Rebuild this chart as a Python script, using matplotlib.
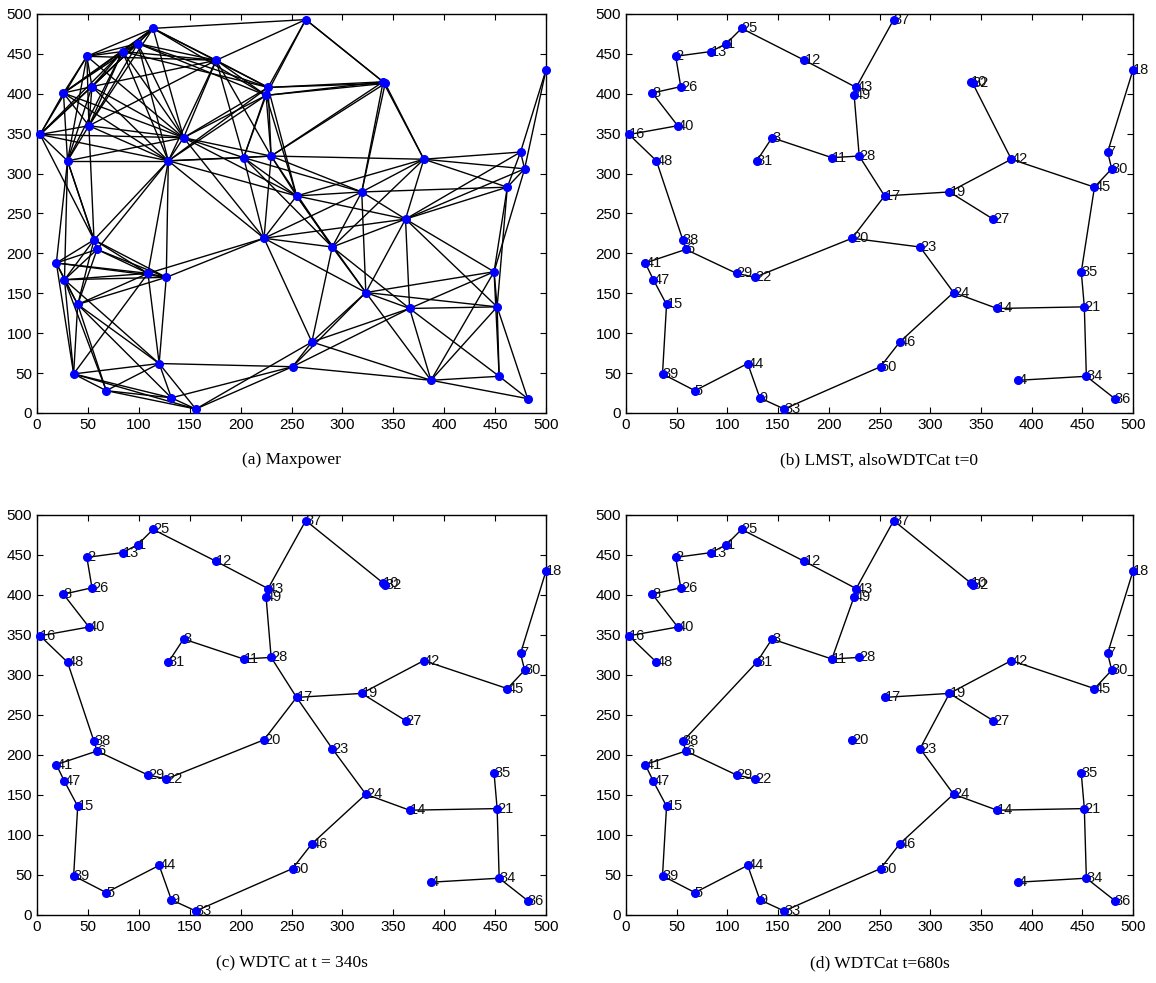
import numpy as np
import matplotlib
matplotlib.use('Agg')
import matplotlib.pyplot as plt

# node positions, index = node id (1..50)
node_id = list(range(1, 51))
node_x = [99, 49, 144, 387, 68, 59, 475, 26, 132, 340,
          203, 176, 84, 366, 40, 3, 255, 500, 319, 223,
          452, 127, 290, 323, 114, 54, 362, 230, 109, 479,
          129, 342, 156, 454, 449, 482, 264, 56, 36, 51,
          19, 380, 227, 120, 462, 270, 27, 30, 225, 251]
node_y = [463, 447, 345, 41, 28, 205, 327, 401, 19, 415,
          320, 442, 453, 131, 136, 349, 272, 430, 277, 219,
          133, 170, 208, 151, 482, 409, 243, 322, 175, 306,
          316, 413, 5, 46, 177, 18, 493, 217, 49, 360,
          188, 318, 408, 62, 283, 89, 167, 316, 398, 58]

# max transmission range for the maxpower graph
max_range = 151

lmst_edges = [(25, 1), (1, 13), (13, 2), (2, 26), (26, 8), (8, 40), (40, 16), (16, 48),
              (48, 38), (38, 6), (6, 41), (41, 47), (47, 15), (15, 39), (39, 5), (5, 44),
              (44, 9), (9, 33), (33, 50), (50, 46), (46, 24), (24, 23), (23, 20), (20, 22),
              (22, 29), (29, 6), (20, 17), (17, 28), (28, 49), (49, 43), (43, 12), (12, 25),
              (43, 37), (28, 11), (11, 3), (3, 31), (17, 19), (19, 27), (19, 42), (42, 32),
              (32, 10), (42, 45), (45, 30), (30, 7), (7, 18), (45, 35), (35, 21), (21, 14),
              (14, 24), (21, 34), (34, 4), (34, 36)]

wdtc340_edges = [(25, 1), (1, 13), (13, 2), (2, 26), (26, 8), (8, 40), (40, 16), (16, 48),
                 (48, 38), (38, 6), (6, 41), (41, 47), (47, 15), (15, 39), (39, 5), (5, 44),
                 (44, 9), (9, 33), (33, 50), (50, 46), (46, 24), (24, 23), (23, 17), (24, 14),
                 (14, 21), (21, 35), (21, 34), (34, 4), (34, 36), (6, 29), (29, 22), (22, 20),
                 (20, 17), (17, 28), (28, 49), (49, 43), (43, 12), (12, 25), (43, 37), (37, 10),
                 (10, 32), (28, 11), (11, 3), (3, 31), (17, 19), (19, 27), (19, 42), (42, 45),
                 (45, 30), (30, 7), (7, 18)]

wdtc680_edges = [(25, 1), (1, 13), (13, 2), (2, 26), (26, 8), (8, 40), (40, 16), (16, 48),
                 (38, 31), (31, 3), (3, 11), (11, 28), (11, 49), (49, 43), (43, 12), (12, 25),
                 (43, 37), (37, 10), (10, 32), (38, 6), (6, 41), (41, 47), (47, 15), (15, 39),
                 (39, 5), (5, 44), (44, 9), (9, 33), (33, 50), (50, 46), (46, 24), (24, 23),
                 (23, 19), (24, 14), (14, 21), (21, 35), (21, 34), (34, 4), (34, 36), (6, 29),
                 (29, 22), (17, 19), (19, 27), (19, 42), (42, 45), (45, 30), (30, 7), (7, 18)]

captions = ['(a) Maxpower', '(b) LMST, alsoWDTCat t=0',
            '(c) WDTC at t = 340s', '(d) WDTCat t=680s']

xs = np.array(node_x, dtype=float)
ys = np.array(node_y, dtype=float)

# maxpower: every pair within range
maxpower_edges = []
for i in range(len(node_id)):
    for j in range(i + 1, len(node_id)):
        if np.hypot(xs[i] - xs[j], ys[i] - ys[j]) <= max_range:
            maxpower_edges.append((node_id[i], node_id[j]))

W, H = 1156, 983
fig = plt.figure(figsize=(W / 100, H / 100), dpi=100)

# axes boxes in pixels: left, right, top, bottom
boxes = [(37, 546, 14, 413), (626, 1133, 14, 413),
         (37, 546, 515, 915), (626, 1133, 515, 915)]
cap_y = [460, 460, 963, 963]

graphs = [maxpower_edges, lmst_edges, wdtc340_edges, wdtc680_edges]

for k in range(4):
    l, r, t, b = boxes[k]
    ax = fig.add_axes([l / W, 1 - b / H, (r - l) / W, (b - t) / H])
    for (p, q) in graphs[k]:
        ax.plot([xs[p - 1], xs[q - 1]], [ys[p - 1], ys[q - 1]], '-', color='k', lw=1.0, zorder=1)
    if k > 0:
        for i, n in enumerate(node_id):
            ax.text(xs[i], ys[i], str(n), ha='left', va='center', fontsize=10.5,
                    family='Liberation Sans', color='#111111', zorder=2)
    ax.plot(xs, ys, 'o', color='blue', markersize=5.5, zorder=3, clip_on=False)
    ax.set_xlim(0, 500)
    ax.set_ylim(0, 500)
    ax.set_xticks(range(0, 501, 50))
    ax.set_yticks(range(0, 501, 50))
    ax.tick_params(direction='in', top=True, right=True, length=4, labelsize=11)
    for lab in ax.get_xticklabels() + ax.get_yticklabels():
        lab.set_family('Liberation Sans')
    for s in ax.spines.values():
        s.set_linewidth(1.0)
    cx = (l + r) / 2
    fig.text(cx / W, 1 - cap_y[k] / H, captions[k], ha='center', va='center',
             fontsize=12.5, family='Liberation Serif')

fig.savefig('out.png', dpi=100)
